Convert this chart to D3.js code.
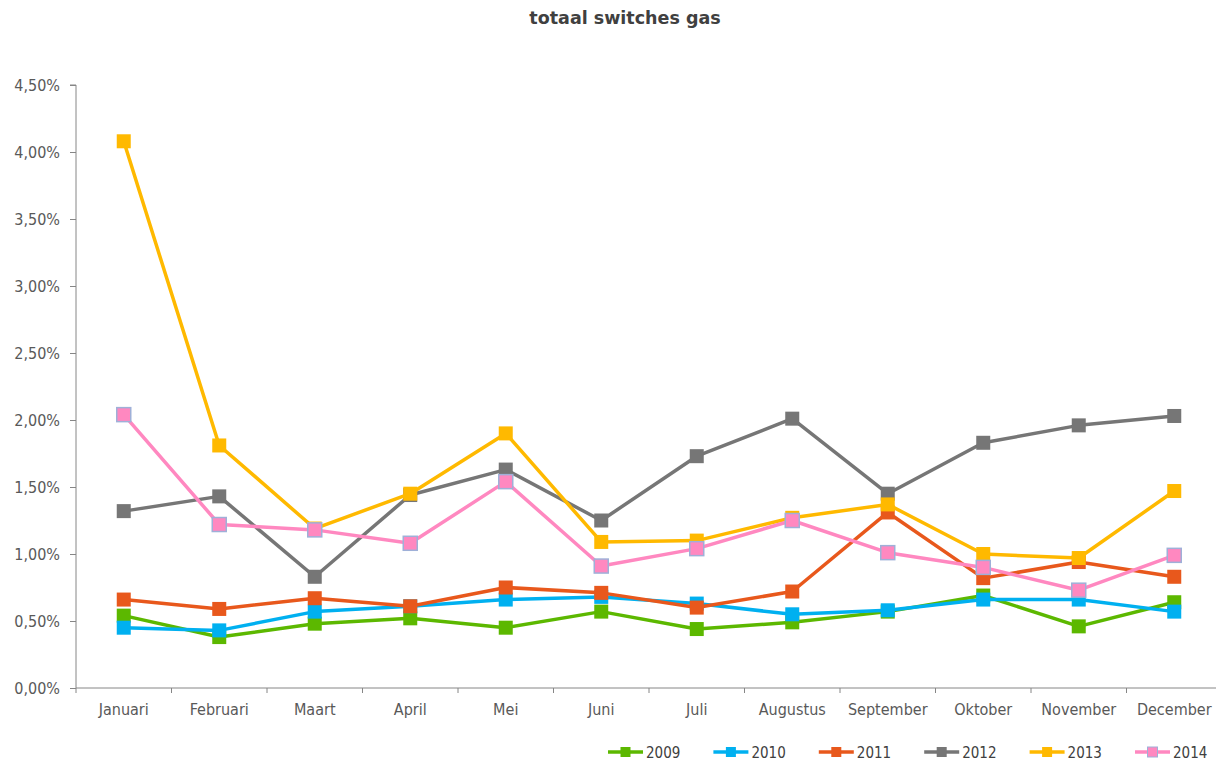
<!DOCTYPE html>
<html>
<head>
<meta charset="utf-8">
<script src="https://cdn.jsdelivr.net/npm/d3@7"></script>
<style>
  html, body { margin: 0; padding: 0; background: #fff; }
  svg { display: block; font-family: "DejaVu Sans Condensed", "DejaVu Sans", Verdana, sans-serif; font-stretch: condensed; }
  .lbl { font-family: "DejaVu Sans Condensed", "DejaVu Sans", sans-serif; font-stretch: condensed; }
</style>
</head>
<body>
<svg id="chart" width="1216" height="761"></svg>
<script>
const months = ["Januari","Februari","Maart","April","Mei","Juni","Juli","Augustus","September","Oktober","November","December"];
const years = ["2009","2010","2011","2012","2013","2014"];
const v2009 = [0.54,0.38,0.48,0.52,0.45,0.57,0.44,0.49,0.57,0.69,0.46,0.64];
const v2010 = [0.45,0.43,0.57,0.61,0.66,0.68,0.63,0.55,0.58,0.66,0.66,0.57];
const v2011 = [0.66,0.59,0.67,0.61,0.75,0.71,0.60,0.72,1.31,0.82,0.94,0.83];
const v2012 = [1.32,1.43,0.83,1.44,1.63,1.25,1.73,2.01,1.45,1.83,1.96,2.03];
const v2013 = [4.08,1.81,1.19,1.45,1.90,1.09,1.10,1.27,1.37,1.00,0.97,1.47];
const v2014 = [2.04,1.22,1.18,1.08,1.54,0.91,1.04,1.25,1.01,0.90,0.73,0.99];
const yTicks = [0,0.5,1,1.5,2,2.5,3,3.5,4,4.5];
const colors = ["#5cb800","#00b0f0","#e8581c","#767676","#ffb900","#ff88c0"];
const strokes = ["#5cb800","#00b0f0","#e8581c","#767676","#ffb900","#9fb0d8"];
const seriesValues = [v2009,v2010,v2011,v2012,v2013,v2014];

const svg = d3.select("#chart");
const mLeft = 76, mRight = 1222, mTop = 85, mBottom = 688;

const x = d3.scaleBand().domain(months).range([mLeft, mRight]).padding(0);
const y = d3.scaleLinear().domain([0, 4.5]).range([mBottom, mTop]);

const fmt = d => d.toFixed(2).replace(".", ",") + "%";

// title
svg.append("text").attr("x", 625).attr("y", 24).attr("text-anchor", "middle")
  .attr("font-family", "DejaVu Sans, sans-serif").style("font-stretch", "normal")
  .attr("font-size", 17.5).attr("font-weight", "bold").attr("fill", "#404040")
  .text("totaal switches gas");

// y axis
const yAxis = d3.axisLeft(y).tickValues(yTicks).tickFormat(fmt).tickSize(6).tickPadding(10);
const gy = svg.append("g").attr("transform", `translate(${mLeft},0)`).call(yAxis);
gy.select(".domain").attr("stroke", "#868686").attr("d", `M-6,${mTop}H0V${mBottom}`);
gy.selectAll(".tick line").attr("stroke", "#868686");
gy.selectAll(".tick text").attr("class", "lbl").attr("font-size", 16).attr("fill", "#595959")
  .attr("font-family", null);

// x axis
const xAxis = d3.axisBottom(x).tickSize(0).tickPadding(16);
const gx = svg.append("g").attr("transform", `translate(0,${mBottom})`).call(xAxis);
gx.select(".domain").attr("stroke", "#868686").attr("d", `M${mLeft},0H${mRight}`);
gx.selectAll(".tick text").attr("class", "lbl").attr("font-size", 16).attr("fill", "#595959")
  .attr("font-family", null);
const bounds = months.map(m => x(m)).concat([mRight]);
gx.selectAll(".bound").data(bounds).enter().append("line")
  .attr("x1", d => d).attr("x2", d => d).attr("y1", 0).attr("y2", 5)
  .attr("stroke", "#868686");

// series
const line = d3.line().x((d, i) => x(months[i]) + x.bandwidth() / 2).y(d => y(d));
seriesValues.forEach((vals, si) => {
  const g = svg.append("g");
  g.append("path").datum(vals).attr("d", line).attr("fill", "none")
    .attr("stroke", colors[si]).attr("stroke-width", 3.5).attr("stroke-linejoin", "round");
  const s = 14;
  g.selectAll("rect").data(vals).enter().append("rect")
    .attr("x", (d, i) => x(months[i]) + x.bandwidth() / 2 - s / 2)
    .attr("y", d => y(d) - s / 2)
    .attr("width", s).attr("height", s)
    .attr("fill", colors[si])
    .attr("stroke", si === 5 ? strokes[si] : "none").attr("stroke-width", 1.5);
});

// legend
const legendStart = 608, legendStep = 105.4;
const ly = 752;
years.forEach((yr, i) => {
  const g = svg.append("g").attr("transform", `translate(${legendStart + i * legendStep},${ly})`);
  g.append("line").attr("x1", 0).attr("x2", 35).attr("y1", 0).attr("y2", 0)
    .attr("stroke", colors[i]).attr("stroke-width", 3.5);
  g.append("rect").attr("x", 12.5).attr("y", -5).attr("width", 10).attr("height", 10)
    .attr("fill", colors[i]).attr("stroke", i === 5 ? strokes[i] : "none").attr("stroke-width", 1);
  g.append("text").attr("class", "lbl").attr("x", 38).attr("y", 5.5).attr("font-size", 15).attr("fill", "#404040")
    .text(yr);
});
</script>
</body>
</html>
